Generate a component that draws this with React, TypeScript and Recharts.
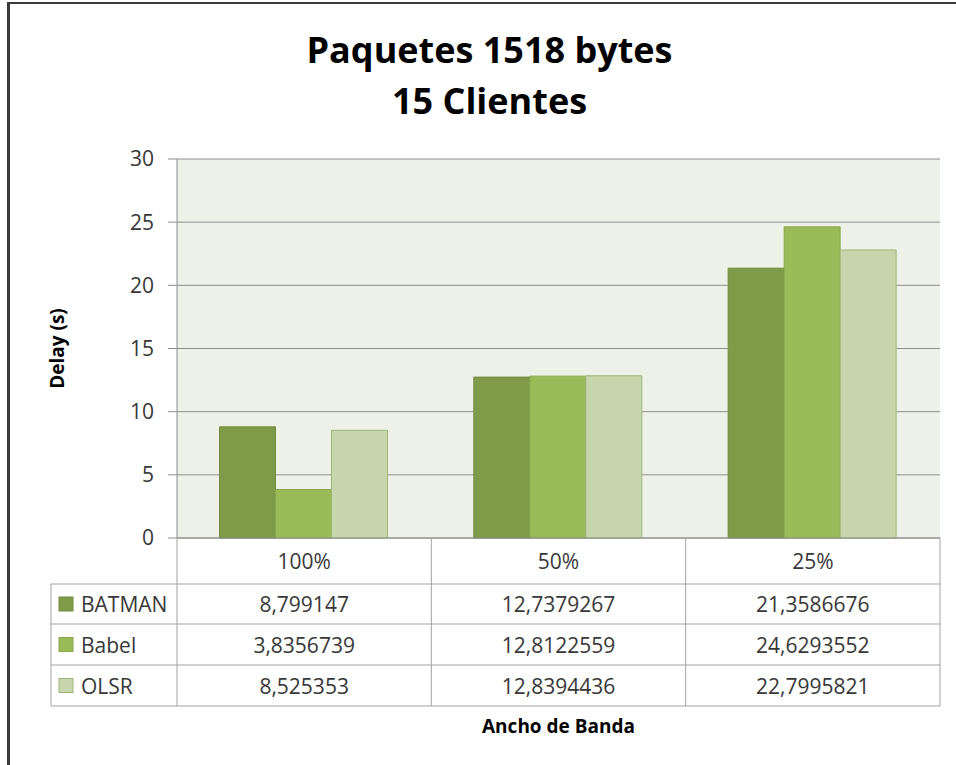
import { Bar, BarChart, CartesianGrid, Label, XAxis, YAxis } from "recharts";

const categories = ["100%", "50%", "25%"];
const seriesNames = ["BATMAN", "Babel", "OLSR"];
const batmanValues = [8.799147, 12.7379267, 21.3586676];
const babelValues = [3.8356739, 12.8122559, 24.6293552];
const olsrValues = [8.525353, 12.8394436, 22.7995821];
const yTicks = [0, 5, 10, 15, 20, 25, 30];

const seriesValues = [batmanValues, babelValues, olsrValues];
const seriesColors = ["#7f9a48", "#9bbb59", "#c7d6ac"];
const seriesStrokes = ["#738c40", "#88a64c", "#9fb67a"];

const data = categories.map((category, i) => ({
	category,
	BATMAN: batmanValues[i],
	Babel: babelValues[i],
	OLSR: olsrValues[i],
}));

const WIDTH = 956;
const HEIGHT = 765;
const PLOT_LEFT = 177;
const PLOT_RIGHT = 940;
const PLOT_TOP = 159;
const PLOT_BOTTOM = 538;
const TABLE_LEFT = 51;
const ROW_LINES = [584, 624, 665, 706];
const TABLE_BOTTOM = ROW_LINES[ROW_LINES.length - 1];
const GRID_COLOR = "#8e8e8e";
const TABLE_LINE = "#a3a3a3";
const TEXT_COLOR = "#383838";
const FONT = "'Open Sans', sans-serif";

function formatValue(value: number): string {
	return value.toString().replace(".", ",");
}

function TableTick(props: any) {
	const { payload, index } = props;
	const bandWidth = (PLOT_RIGHT - PLOT_LEFT) / categories.length;
	const half = payload?.offset || bandWidth / 2;
	const x = payload.coordinate;
	const left = x - half;
	const right = x + half;
	const headerMid = (PLOT_BOTTOM + ROW_LINES[0]) / 2;

	return (
		<g>
			{index === 0 && (
				<g>
					<line x1={left} x2={left} y1={PLOT_BOTTOM} y2={TABLE_BOTTOM} stroke={TABLE_LINE} />
					<line x1={TABLE_LEFT} x2={TABLE_LEFT} y1={ROW_LINES[0]} y2={TABLE_BOTTOM} stroke={TABLE_LINE} />
					{ROW_LINES.map((ly) => (
						<line key={ly} x1={TABLE_LEFT} x2={left} y1={ly} y2={ly} stroke={TABLE_LINE} />
					))}
					{seriesNames.map((name, s) => {
						const cy = (ROW_LINES[s] + ROW_LINES[s + 1]) / 2;
						return (
							<g key={name}>
								<rect
									x={TABLE_LEFT + 8}
									y={cy - 7}
									width={14}
									height={14}
									fill={seriesColors[s]}
									stroke={seriesStrokes[s]}
								/>
								<text
									x={TABLE_LEFT + 30}
									y={cy}
									dominantBaseline="central"
									fontFamily={FONT}
									fontSize={21}
									fill={TEXT_COLOR}
								>
									{name}
								</text>
							</g>
						);
					})}
				</g>
			)}
			<line x1={right} x2={right} y1={PLOT_BOTTOM} y2={TABLE_BOTTOM} stroke={TABLE_LINE} />
			{ROW_LINES.map((ly) => (
				<line key={ly} x1={left} x2={right} y1={ly} y2={ly} stroke={TABLE_LINE} />
			))}
			<text
				x={x}
				y={headerMid}
				textAnchor="middle"
				dominantBaseline="central"
				fontFamily={FONT}
				fontSize={21}
				fill={TEXT_COLOR}
			>
				{payload.value}
			</text>
			{seriesValues.map((values, s) => (
				<text
					key={s}
					x={x}
					y={(ROW_LINES[s] + ROW_LINES[s + 1]) / 2}
					textAnchor="middle"
					dominantBaseline="central"
					fontFamily={FONT}
					fontSize={21}
					fill={TEXT_COLOR}
				>
					{formatValue(values[index])}
				</text>
			))}
		</g>
	);
}

function YLabel(props: any) {
	const vb = props.viewBox;
	const cx = vb.x + 17;
	const cy = vb.y + vb.height / 2;
	return (
		<text
			x={cx}
			y={cy}
			transform={`rotate(-90 ${cx} ${cy})`}
			textAnchor="middle"
			dominantBaseline="central"
			fontFamily={FONT}
			fontWeight="bold"
			fontSize={19}
			fill="#000"
		>
			Delay (s)
		</text>
	);
}

export default function App() {
	const yAxisWidth = PLOT_LEFT - 40;
	const xAxisHeight = TABLE_BOTTOM - PLOT_BOTTOM;

	return (
		<div
			style={{
				position: "absolute",
				left: 0,
				top: 0,
				width: WIDTH,
				height: HEIGHT,
				background: "#fff",
				overflow: "hidden",
			}}
		>
			<div
				style={{
					position: "absolute",
					left: 7,
					top: 2,
					width: WIDTH,
					height: HEIGHT,
					borderLeft: "3px solid #3a3a3a",
					borderTop: "2px solid #3a3a3a",
				}}
			/>
			<div
				style={{
					position: "absolute",
					left: 0,
					top: 24,
					width: 979,
					textAlign: "center",
					fontFamily: FONT,
					fontWeight: "bold",
					fontSize: 36,
					lineHeight: "51px",
					color: "#000",
				}}
			>
				<div>Paquetes 1518 bytes</div>
				<div>15 Clientes</div>
			</div>
			<div style={{ position: "absolute", left: 0, top: 0 }}>
				<BarChart
					width={WIDTH}
					height={HEIGHT}
					data={data}
					margin={{
						top: PLOT_TOP,
						right: WIDTH - PLOT_RIGHT,
						left: 40,
						bottom: HEIGHT - PLOT_BOTTOM - xAxisHeight,
					}}
					barCategoryGap="16.7%"
					barGap={0}
				>
					<CartesianGrid vertical={false} stroke={GRID_COLOR} fill="#eef1e8" />
					<XAxis
						dataKey="category"
						height={xAxisHeight}
						axisLine={{ stroke: GRID_COLOR }}
						tickLine={false}
						tickSize={0}
						interval={0}
						tick={<TableTick />}
					>
						<Label
							value="Ancho de Banda"
							position="bottom"
							offset={14}
							fontFamily={FONT}
							fontWeight="bold"
							fontSize={19}
							fill="#000"
						/>
					</XAxis>
					<YAxis
						width={yAxisWidth}
						domain={[0, 30]}
						ticks={yTicks}
						axisLine={{ stroke: GRID_COLOR }}
						tickLine={{ stroke: GRID_COLOR }}
						tickSize={9}
						tickMargin={14}
						tick={{ fill: TEXT_COLOR, fontSize: 21, fontFamily: FONT }}
					>
						<Label content={<YLabel />} />
					</YAxis>
					{seriesNames.map((name, s) => (
						<Bar
							key={name}
							dataKey={name}
							fill={seriesColors[s]}
							stroke={seriesStrokes[s]}
							strokeWidth={1}
							isAnimationActive={false}
						/>
					))}
				</BarChart>
			</div>
		</div>
	);
}
